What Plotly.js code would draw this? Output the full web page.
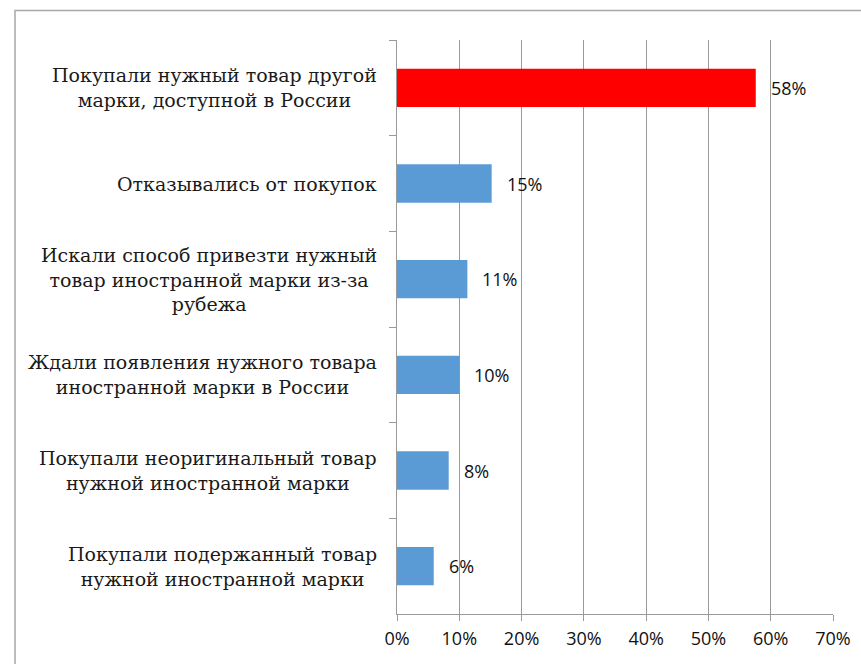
<!DOCTYPE html>
<html>
<head>
<meta charset="utf-8">
<script src="https://cdn.plot.ly/plotly-3.0.1.min.js"></script>
<style>html,body{margin:0;padding:0;background:#fff;}#chart{width:861px;height:664px;}</style>
</head>
<body>
<div id="chart"></div>
<script>
const categories = [
  "Покупали нужный товар другой<br>марки, доступной в России",
  "Отказывались от покупок",
  "Искали способ привезти нужный<br>товар иностранной марки из-за<br>рубежа",
  "Ждали появления нужного товара<br>иностранной марки в России",
  "Покупали неоригинальный товар<br>нужной иностранной марки",
  "Покупали подержанный товар<br>нужной иностранной марки"
];
const values = [57.6, 15.2, 11.3, 10.0, 8.3, 5.9];
const valueLabels = ["58%", "15%", "11%", "10%", "8%", "6%"];
const barColors = ["#ff0000", "#5b9bd5", "#5b9bd5", "#5b9bd5", "#5b9bd5", "#5b9bd5"];
const xTickVals = [0, 10, 20, 30, 40, 50, 60, 70];
const xTickText = ["0%", "10%", "20%", "30%", "40%", "50%", "60%", "70%"];

const gridColor = "#9a9a9a";
const numFont = {family: "Open Sans, Liberation Sans, sans-serif", size: 18, color: "#111"};

const annotations = [];
categories.forEach((c, i) => {
  annotations.push({
    xref: "paper", yref: "y", x: 0, y: c, xanchor: "right", yanchor: "middle",
    xshift: -18, text: c, showarrow: false, align: "center",
    font: {family: "DejaVu Serif, serif", size: 19, color: "#1a1a1a"}
  });
  annotations.push({
    xref: "x", yref: "y", x: values[i], y: c, xanchor: "left", yanchor: "middle",
    xshift: 13, text: valueLabels[i], showarrow: false, font: numFont
  });
});

const data = [{
  type: "bar", orientation: "h",
  x: values, y: categories,
  marker: {color: barColors, line: {width: 0}},
  hoverinfo: "skip"
}];

const layout = {
  width: 861, height: 664,
  margin: {l: 397, r: 28, t: 40, b: 50},
  paper_bgcolor: "#fff", plot_bgcolor: "#fff",
  bargap: 0.6,
  showlegend: false,
  xaxis: {
    range: [0, 70], tickvals: xTickVals, ticktext: xTickText,
    showgrid: true, gridcolor: gridColor, gridwidth: 1,
    zeroline: false, showline: true, linecolor: gridColor, linewidth: 1,
    ticks: "outside", ticklen: 6, tickcolor: gridColor, ticklabelstandoff: 2,
    tickfont: numFont, fixedrange: true
  },
  yaxis: {
    type: "category", autorange: "reversed",
    showticklabels: false, showgrid: false, zeroline: false,
    showline: true, linecolor: gridColor, linewidth: 1,
    ticks: "outside", tickson: "boundaries", ticklen: 7, tickcolor: gridColor,
    fixedrange: true
  },
  annotations: annotations,
  shapes: [{
    type: "rect", xref: "paper", yref: "paper",
    x0: (15 - 397) / 436, x1: 2, y0: -1, y1: 1 + (40 - 10.5) / 574,
    line: {color: "#a8a8a8", width: 1.5}, fillcolor: "rgba(0,0,0,0)", layer: "below"
  }]
};

Plotly.newPlot("chart", data, layout, {displayModeBar: false, staticPlot: true});
</script>
</body>
</html>
